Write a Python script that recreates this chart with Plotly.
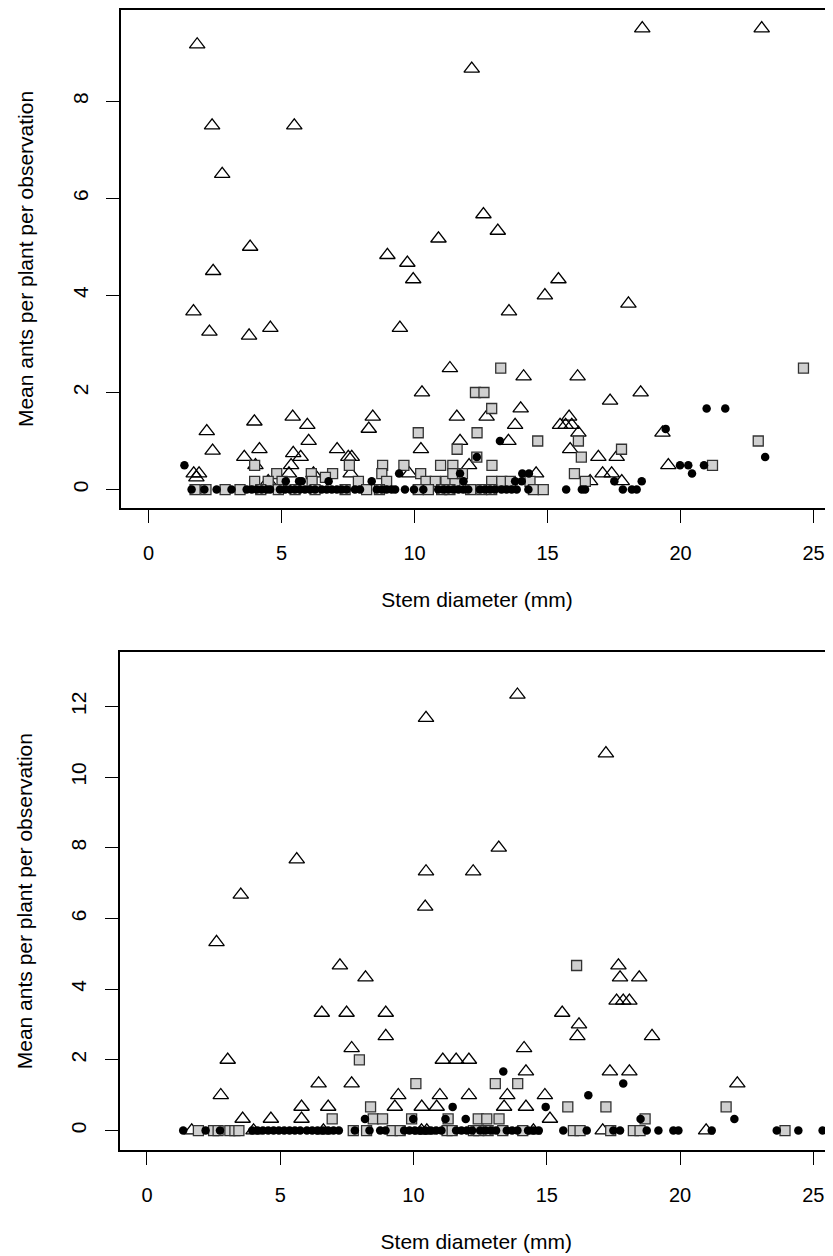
import plotly.graph_objects as go

# ---------------- Top panel ----------------
top_tri_x = [1.83, 2.39, 5.48, 2.77, 3.82, 2.43, 8.98, 9.73, 9.95, 18.56, 23.05, 12.15, 12.59, 13.13,
             10.9, 15.41, 14.9, 18.04, 1.69, 2.29, 3.78, 4.58, 9.45, 13.55, 25.9, 11.33, 10.28, 14.1,
             16.13, 18.5, 17.35, 2.19, 2.41, 3.98, 4.17, 3.6, 5.42, 5.97, 6.02, 5.44, 5.72, 5.36, 5.28,
             7.09, 7.51, 7.64, 7.6, 8.43, 8.28, 10.24, 11.59, 11.71, 12.71, 12.05, 9.8, 1.7, 1.9, 1.8,
             4.02, 13.53, 13.78, 13.99, 14.57, 15.47, 15.68, 15.91, 15.81, 16.16, 15.85, 16.91, 17.6,
             17.07, 17.41, 16.6, 17.79, 19.32, 19.54, 4.5, 6.2]
top_tri_y = [9.17, 7.5, 7.5, 6.5, 5.0, 4.5, 4.83, 4.67, 4.33, 9.5, 9.5, 8.67, 5.67, 5.33,
             5.17, 4.33, 4.0, 3.83, 3.67, 3.25, 3.17, 3.33, 3.33, 3.67, 3.4, 2.5, 2.0, 2.33,
             2.33, 2.0, 1.83, 1.2, 0.8, 1.4, 0.83, 0.67, 1.5, 1.33, 1.0, 0.75, 0.67, 0.5, 0.33,
             0.83, 0.67, 0.67, 0.33, 1.5, 1.25, 0.83, 1.5, 1.0, 1.5, 0.5, 0.33, 0.33, 0.33, 0.25,
             0.5, 1.0, 1.33, 1.67, 0.33, 1.33, 1.33, 1.33, 1.5, 1.17, 0.83, 0.67, 0.67,
             0.33, 0.33, 0.17, 0.17, 1.17, 0.5, 0.17, 0.33]

top_sq_x = [13.24, 12.29, 12.61, 12.9, 10.14, 12.35, 11.6, 12.34, 3.99, 4.82, 3.99, 4.5, 5.02, 6.12,
            6.15, 6.92, 6.65, 7.55, 7.89, 8.8, 8.77, 8.95, 9.6, 10.23, 10.43, 10.78, 11.18, 11.52,
            10.98, 11.44, 11.44, 11.8, 12.91, 12.9, 13.28, 13.6, 24.62, 14.63, 16.16, 17.78, 16.27,
            22.92, 21.2, 16.01, 14.34, 16.42,
            1.75, 2.16, 2.88, 3.44, 4.22, 4.88, 5.51, 6.26, 7.39, 8.2, 8.68, 10.14, 10.52, 11.02,
            11.33, 12.11, 12.53, 12.9, 14.47, 14.84]
top_sq_y = [2.5, 2.0, 2.0, 1.67, 1.17, 1.17, 0.83, 0.67, 0.5, 0.33, 0.17, 0.17, 0.17, 0.33,
            0.17, 0.33, 0.25, 0.5, 0.17, 0.5, 0.33, 0.17, 0.5, 0.33, 0.17, 0.17, 0.17, 0.17,
            0.5, 0.5, 0.33, 0.33, 0.5, 0.17, 0.17, 0.17, 2.5, 1.0, 1.0, 0.83, 0.67,
            1.0, 0.5, 0.33, 0.17, 0.17,
            0, 0, 0, 0, 0, 0, 0, 0, 0, 0, 0, 0, 0, 0,
            0, 0, 0, 0, 0, 0]

top_dot_x = [1.35, 13.21, 12.34, 11.71, 9.42, 11.84, 5.16, 5.66, 5.76, 6.77, 8.39, 13.78, 20.98,
             21.68, 19.44, 23.18, 19.98, 20.29, 20.88, 20.43, 14.05, 14.3, 14.03, 17.51, 18.54,
             1.62, 2.1, 2.56, 3.12, 3.69, 3.88, 4.07, 4.25, 4.44, 4.57, 4.94, 5.13, 5.32, 5.5, 5.69,
             5.88, 6.07, 6.26, 6.51, 6.7, 6.89, 7.08, 7.26, 7.45, 7.76, 7.95, 8.58, 8.77, 8.95, 9.14,
             9.27, 9.64, 9.98, 10.33, 10.89, 11.08, 11.27, 11.46, 11.65, 11.83, 12.02, 12.46, 12.65,
             12.84, 13.02, 13.27, 13.46, 13.65, 13.84, 14.28, 15.7, 16.29, 16.41, 17.83, 18.17, 18.35]
top_dot_y = [0.5, 1.0, 0.67, 0.33, 0.33, 0.17, 0.17, 0.17, 0.17, 0.17, 0.17, 0.17, 1.67,
             1.67, 1.25, 0.67, 0.5, 0.5, 0.5, 0.33, 0.33, 0.33, 0.17, 0.17, 0.17] + [0] * 56

# ---------------- Bottom panel ----------------
bot_tri_x = [5.62, 3.52, 13.9, 10.47, 17.22, 13.2, 10.47, 12.24, 10.44, 2.61, 7.24, 8.2, 6.56, 7.49,
             8.96, 8.96, 7.68, 3.03, 11.1, 11.6, 12.08, 14.15, 2.77, 6.44, 7.68, 9.43, 10.99, 12.08,
             13.52, 5.8, 6.8, 9.3, 10.31, 10.87, 13.4, 3.59, 4.65, 5.8, 17.69, 17.75, 18.47, 17.62,
             17.87, 18.1, 15.58, 16.21, 16.15, 18.95, 14.22, 17.37, 18.1, 22.15, 14.93, 14.22, 15.12,
             1.68, 4.0, 6.62, 10.3, 10.5, 14.5, 17.1, 20.98]
bot_tri_y = [7.67, 6.67, 12.33, 11.67, 10.67, 8.0, 7.33, 7.33, 6.33, 5.33, 4.67, 4.33, 3.33, 3.33,
             3.33, 2.67, 2.33, 2.0, 2.0, 2.0, 2.0, 2.33, 1.0, 1.33, 1.33, 1.0, 1.0, 1.0,
             1.0, 0.67, 0.67, 0.67, 0.67, 0.67, 0.67, 0.33, 0.33, 0.33, 4.67, 4.33, 4.33, 3.67,
             3.67, 3.67, 3.33, 3.0, 2.67, 2.67, 1.67, 1.67, 1.67, 1.33, 1.0, 0.67, 0.33,
             0, 0, 0, 0, 0, 0, 0, 0]

bot_sq_x = [7.97, 10.09, 13.07, 13.91, 16.12, 8.39, 6.95, 8.49, 8.84, 9.93, 11.3, 12.43, 12.75, 13.21,
            15.79, 17.22, 21.73, 18.69, 25.85,
            1.93, 2.5, 2.67, 3.11, 3.3, 3.45, 7.74, 8.24, 9.2, 9.5, 11.26, 11.45, 12.25, 12.45, 12.8,
            13.35, 14.1, 16.0, 16.25, 17.4, 18.25, 18.5, 23.94]
bot_sq_y = [2.0, 1.33, 1.33, 1.33, 4.67, 0.67, 0.33, 0.33, 0.33, 0.33, 0.33, 0.33, 0.33, 0.33,
            0.67, 0.67, 0.67, 0.33, 0.33] + [0] * 23

bot_dot_x = [13.37, 11.47, 8.18, 11.96, 9.99, 11.2, 17.87, 16.56, 14.96, 22.04, 18.52,
             1.36, 2.2, 2.74, 3.95, 4.15, 4.35, 4.55, 4.75, 4.95, 5.15, 5.35, 5.55, 5.75, 6.0, 6.2,
             6.4, 6.6, 6.8, 7.0, 7.2, 7.8, 8.35, 8.75, 8.95, 9.65, 9.85, 10.05, 10.25, 10.45, 10.65,
             10.85, 11.05, 11.6, 11.8, 12.0, 12.2, 12.5, 12.7, 12.9, 13.1, 13.5, 13.7, 13.9, 14.3,
             14.5, 14.7, 15.62, 16.5, 17.5, 17.75, 18.75, 19.19, 19.75, 19.94, 21.19, 23.63, 24.44,
             25.35]
bot_dot_y = [1.67, 0.67, 0.33, 0.33, 0.33, 0.33, 1.33, 1.0, 0.67, 0.33, 0.33] + [0] * 58

x_ticks = [0, 5, 10, 15, 20, 25]
top_y_ticks = [0, 2, 4, 6, 8]
bot_y_ticks = [0, 2, 4, 6, 8, 10, 12]
x_title = "Stem diameter (mm)"
y_title = "Mean ants per plant per observation"

FONT = "Liberation Sans, Arial, Helvetica, sans-serif"

tri_marker = dict(symbol="triangle-up-open", size=13.5, color="black", line=dict(width=1.3, color="black"))
sq_marker = dict(symbol="square", size=10, color="#d0d0d0", line=dict(width=1.3, color="#333333"))
dot_marker = dict(symbol="circle", size=8.5, color="black", line=dict(width=0))

fig = go.Figure()
for xs, ys, mk, ax, ay in [
    (top_tri_x, top_tri_y, tri_marker, "x", "y"),
    (top_sq_x, top_sq_y, sq_marker, "x", "y"),
    (top_dot_x, top_dot_y, dot_marker, "x", "y"),
    (bot_tri_x, bot_tri_y, tri_marker, "x2", "y2"),
    (bot_sq_x, bot_sq_y, sq_marker, "x2", "y2"),
    (bot_dot_x, bot_dot_y, dot_marker, "x2", "y2"),
]:
    fig.add_trace(go.Scatter(x=xs, y=ys, mode="markers", marker=mk, xaxis=ax, yaxis=ay,
                             showlegend=False, hoverinfo="x+y"))

# page has an 8px body margin; the figure origin sits at page (8, 8)
OFF = 8
W, H = 833 - OFF, 1256 - OFF
ML, MT = 119 - OFF, 10 - OFF
MB = H - (1150 - OFF)
PW = W - ML
PH = H - MT - MB


def xdom(left_page_px):
    return [(left_page_px - OFF - ML) / PW, 1.0]


def ydom(top_page_px, bot_page_px):
    t = top_page_px - OFF
    b = bot_page_px - OFF
    return [(H - MB - b) / PH, (H - MB - t) / PH]


common_x = dict(
    tickmode="array", tickvals=x_ticks, ticks="outside", ticklen=13, tickwidth=1.3, tickcolor="black",
    showline=True, linecolor="black", linewidth=1.5, mirror=True, showgrid=False, zeroline=False,
    tickfont=dict(family=FONT, size=20, color="black"), ticklabelstandoff=13,
    title=dict(text=x_title, font=dict(family=FONT, size=21, color="black"), standoff=30),
    automargin=False, fixedrange=True,
)
common_y = dict(
    tickmode="array", ticks="outside", ticklen=13, tickwidth=1.3, tickcolor="black",
    showline=True, linecolor="black", linewidth=1.5, mirror=False, showgrid=False, zeroline=False,
    tickangle=-90, tickfont=dict(family=FONT, size=21, color="black"), ticklabelstandoff=10,
    title=dict(text=y_title, font=dict(family=FONT, size=21, color="black"), standoff=29),
    automargin=False, fixedrange=True,
)

fig.update_layout(
    width=W, height=H, margin=dict(l=ML, r=0, t=MT, b=MB),
    plot_bgcolor="white", paper_bgcolor="white", showlegend=False,
    xaxis=dict(common_x, domain=xdom(121), range=[-1.034, 25.73], anchor="y"),
    yaxis=dict(common_y, domain=ydom(10, 508), range=[-0.38, 9.88], tickvals=top_y_ticks, anchor="x"),
    xaxis2=dict(common_x, domain=xdom(119.5), range=[-1.03, 25.74], anchor="y2"),
    yaxis2=dict(common_y, domain=ydom(652.3, 1150), range=[-0.55, 13.53], tickvals=bot_y_ticks, anchor="x2"),
)

fig.write_html("out.html")
